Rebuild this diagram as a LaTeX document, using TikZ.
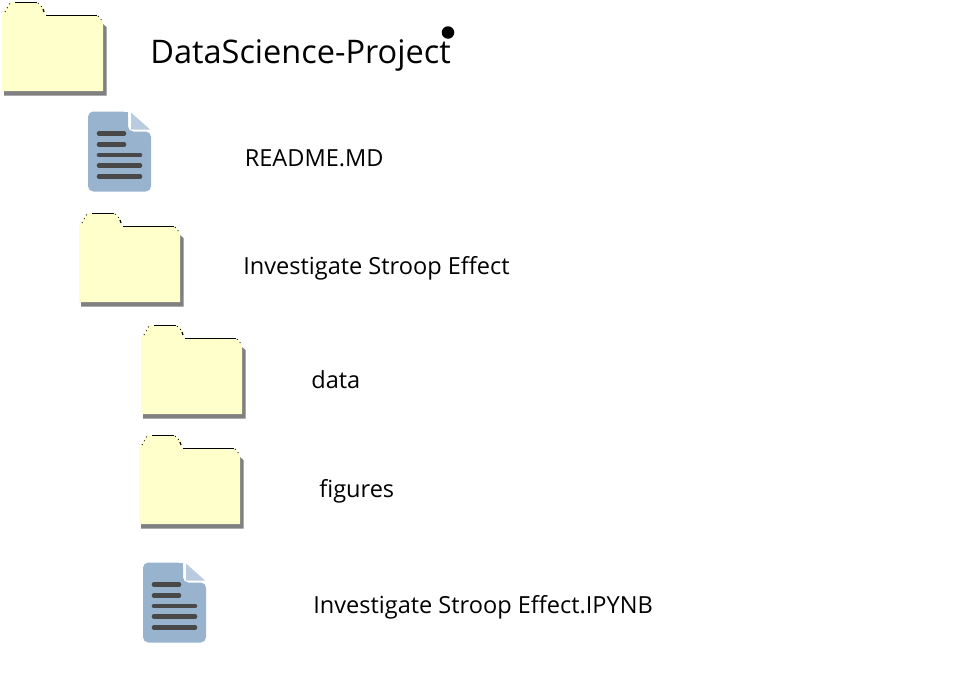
\documentclass[tikz,border=0pt]{standalone}
\usepackage{fontspec}
\setmainfont{Open Sans}
\definecolor{folderfill}{HTML}{FFFFCC}
\definecolor{foldershade}{HTML}{808080}
\definecolor{docblue}{HTML}{98B3CE}
\definecolor{docfold}{HTML}{B9CCDF}
\definecolor{docline}{HTML}{484848}
\tikzset{
  px/.style={x=0.02cm,y=-0.02cm},
  label/.style={anchor=base west,inner sep=0pt,font=\fontsize{13.4pt}{15pt}\selectfont},
  title/.style={anchor=base west,inner sep=0pt,font=\fontsize{18.5pt}{20pt}\selectfont},
  folder/.pic={
    \fill[foldershade] (4,24) -- (103,24) -- (106.5,27) -- (106.5,95.5) -- (4,95.5) -- cycle;
    \fill[folderfill] (2,15) -- (10,2) -- (37,2) -- (44,8) -- (45,15) -- (97,15) -- (103,22) -- (103,91) -- (2,91) -- cycle;
    \draw[line width=0.5pt] (15,2.2) -- (37,2.2) (46,15.2) -- (97,15.2);
    \draw[line width=0.5pt,dotted] (5,12) -- (10,3) (38,3) -- (43,8) (98,16) -- (103,22);
    \draw[line width=0.7pt] (43,9) -- (44,12);
  },
  docfile/.pic={
    \fill[docblue,rounded corners=3pt] (0,0) -- (40,0) -- (40,20) -- (63,20) -- (63,80) -- (0,80) -- cycle;
    \fill[docblue] (30,0) -- (40,0) -- (40,10) -- (30,10) -- cycle;
    \fill[docfold] (43,1) -- (62,18) -- (43,18) -- cycle;
    \foreach \y/\xend in {22/36,33/36,43.5/52,54/52,65/52}
      \draw[docline,line width=2.6pt,line cap=round] (11,\y) -- (\xend,\y);
  }
}
\begin{document}
\begin{tikzpicture}[px]
\useasboundingbox (0,0) rectangle (974,680);

\pic at (0,0) {folder};
\pic at (88,111.5) {docfile};
\pic at (77,211) {folder};
\pic at (139,323) {folder};
\pic at (137,433) {folder};
\pic at (143,562.5) {docfile};

\node[title] (project) at (150,63) {DataScience-Project};
\node[label] (readme) at (244.5,166) {README.MD};
\node[label] (stroop) at (243,274) {Investigate Stroop Effect};
\node[label] (data) at (311,388) {data};
\node[label] (figures) at (319,497) {figures};
\node[label] (notebook) at (313,613) {Investigate Stroop Effect.IPYNB};

\node[circle,fill=black,inner sep=0pt,minimum size=0.25cm] (dot) at (448,32.5) {};

\end{tikzpicture}
\end{document}
